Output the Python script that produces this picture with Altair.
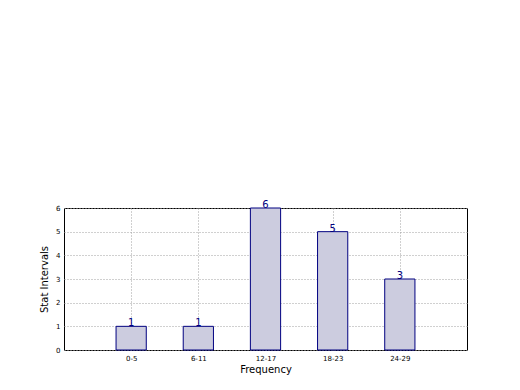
import altair as alt
import pandas as pd

categories = ["0-5", "6-11", "12-17", "18-23", "24-29"]
values = [1, 1, 6, 5, 3]

df = pd.DataFrame({"idx": list(range(len(categories))), "cat": categories, "val": values})
df["x0"] = df["idx"] - 0.225
df["x1"] = df["idx"] + 0.225

font = "DejaVu Sans"
lab_expr = "[" + ",".join(f"'{c}'" for c in categories) + "][datum.value]"

xscale = alt.Scale(domain=[-1, 5], nice=False, zero=False)
yscale = alt.Scale(domain=[0, 6], nice=False)

xaxis = alt.Axis(values=[0, 1, 2, 3, 4], labelExpr=lab_expr, grid=True,
                 gridDash=[1, 2], gridColor="#a0a0a0", gridWidth=1,
                 ticks=False, labelPadding=4, labelFontSize=7, labelFont=font,
                 titleFont=font, titleFontSize=10, titleFontWeight="normal",
                 titlePadding=3, domain=False, labelColor="black", titleColor="black",
                 labelOverlap=False)
yaxis = alt.Axis(values=[0, 1, 2, 3, 4, 5, 6], tickCount=7, grid=True, gridDash=[1, 2],
                 gridColor="#a0a0a0", gridWidth=1, ticks=False, labelPadding=4,
                 labelFontSize=7, labelFont=font, titleFont=font, titleFontSize=10,
                 titleFontWeight="normal", titlePadding=6, domain=False,
                 labelColor="black", titleColor="black", labelOverlap=False)

bars = alt.Chart(df).mark_rect(fill="#ccccdf", stroke="#000080", strokeWidth=1).encode(
    x=alt.X("x0:Q", scale=xscale, title="Frequency", axis=xaxis),
    x2="x1:Q",
    y=alt.Y("val:Q", scale=yscale, title="Stat Intervals", axis=yaxis),
    y2=alt.datum(0),
)

text = alt.Chart(df).mark_text(color="#000080", fontSize=10, font=font, baseline="bottom", dy=2).encode(
    x=alt.X("idx:Q", scale=xscale, title="Frequency", axis=xaxis),
    y=alt.Y("val:Q", scale=yscale, title="Stat Intervals", axis=yaxis),
    text=alt.Text("val:Q"),
)

chart = alt.layer(bars, text).properties(
    width=403, height=142,
    autosize=alt.AutoSizeParams(type="none"),
    padding={"left": 64, "top": 208, "right": 53, "bottom": 40},
).configure_view(stroke="black", strokeWidth=1)

chart.save("out.html", embed_options={"renderer": "svg", "actions": False})
